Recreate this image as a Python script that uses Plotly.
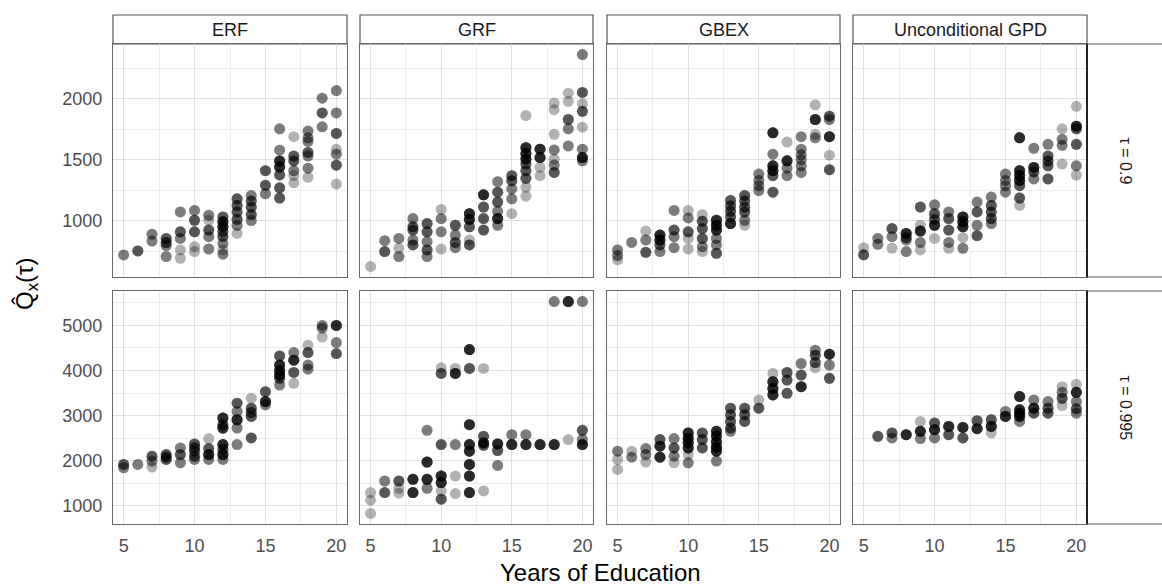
import plotly.graph_objects as go

# Estimated conditional quantiles by years of education.
# Each entry: year -> list of (estimate, number of overlapping observations)
methods = ["ERF", "GRF", "GBEX", "Unconditional GPD"]
tau_labels = ["τ = 0.9", "τ = 0.995"]
year_ticks = [5, 10, 15, 20]

erf_090 = {
    5: [(718, 2)], 6: [(751, 3)], 7: [(889, 2), (832, 2)],
    8: [(854, 3), (820, 3), (795, 2), (705, 2)],
    9: [(1071, 2), (908, 3), (854, 2), (759, 1), (691, 1)],
    10: [(1084, 2), (1003, 3), (908, 3), (786, 1), (746, 1)],
    11: [(1044, 2), (1003, 1), (922, 3), (868, 2), (767, 2)],
    12: [(1030, 3), (990, 5), (950, 5), (910, 3), (870, 3), (813, 2), (759, 1), (724, 2)],
    13: [(1179, 3), (1125, 3), (1070, 3), (1010, 3), (960, 2), (895, 1)],
    14: [(1206, 2), (1160, 3), (1110, 3), (1050, 3), (1000, 2)],
    15: [(1410, 3), (1290, 3), (1220, 2)],
    16: [(1754, 2), (1578, 2), (1490, 5), (1440, 5), (1375, 3), (1269, 3), (1185, 3)],
    17: [(1689, 1), (1530, 3), (1490, 3), (1410, 2), (1370, 1), (1310, 1)],
    18: [(1735, 2), (1680, 2), (1650, 2), (1560, 3), (1530, 2), (1430, 2), (1355, 1)],
    19: [(2005, 2), (1884, 3), (1770, 2)],
    20: [(2068, 2), (1884, 2), (1716, 3), (1585, 1), (1545, 2), (1455, 3), (1300, 1)],
}
grf_090 = {
    5: [(624, 1)], 6: [(835, 2), (746, 3)], 7: [(854, 2), (773, 1), (705, 2)],
    8: [(1017, 2), (949, 3), (922, 3), (840, 2), (800, 3)],
    9: [(976, 3), (908, 3), (827, 2), (759, 3), (705, 2)],
    10: [(1092, 1), (1017, 2), (908, 2), (767, 1)],
    11: [(962, 3), (881, 2), (821, 3), (778, 2)],
    12: [(1057, 5), (1010, 5), (949, 3), (840, 1), (800, 3)],
    13: [(1212, 5), (1111, 3), (1017, 3), (922, 3)],
    14: [(1320, 2), (1233, 3), (1152, 3), (1076, 2), (1017, 5), (962, 2)],
    15: [(1369, 3), (1328, 3), (1260, 2), (1179, 2), (1057, 1)],
    16: [(1862, 1), (1599, 5), (1550, 5), (1505, 5), (1464, 3), (1410, 3), (1347, 3), (1274, 1), (1201, 1)],
    17: [(1586, 5), (1518, 5), (1437, 1), (1369, 1)],
    18: [(1965, 1), (1911, 1), (1708, 1), (1580, 2), (1504, 1), (1456, 2), (1396, 3)],
    19: [(2046, 1), (1979, 1), (1830, 3), (1754, 2), (1613, 2)],
    20: [(2363, 2), (2052, 3), (1960, 1), (1897, 3), (1767, 1), (1586, 2), (1518, 5), (1491, 2)],
}
gbex_090 = {
    5: [(759, 2), (713, 2), (678, 1)], 6: [(821, 2)], 7: [(914, 1), (840, 2), (740, 3)],
    8: [(881, 5), (840, 5), (800, 3), (746, 2)],
    9: [(1084, 2), (922, 3), (868, 2), (778, 2)],
    10: [(1084, 1), (1022, 2), (908, 3), (854, 1), (767, 1)],
    11: [(1049, 1), (995, 3), (935, 3), (854, 3), (786, 2), (746, 1)],
    12: [(1003, 5), (962, 5), (922, 5), (854, 2), (800, 2), (732, 3)],
    13: [(1166, 3), (1120, 3), (1076, 3), (1030, 3), (976, 5)],
    14: [(1206, 3), (1160, 3), (1110, 3), (1070, 3), (1003, 2), (962, 1)],
    15: [(1382, 2), (1330, 2), (1287, 2), (1247, 2)],
    16: [(1721, 5), (1545, 2), (1450, 5), (1410, 5), (1369, 3), (1233, 3)],
    17: [(1645, 1), (1491, 5), (1430, 2), (1369, 2)],
    18: [(1689, 2), (1586, 2), (1540, 2), (1500, 2), (1450, 2), (1396, 2)],
    19: [(1951, 1), (1830, 5), (1708, 1), (1680, 2)],
    20: [(1857, 3), (1830, 2), (1689, 5), (1537, 1), (1418, 3)],
}
gpd_090 = {
    5: [(778, 1), (719, 3)], 6: [(854, 2), (805, 2)], 7: [(935, 3), (868, 2), (773, 1)],
    8: [(895, 5), (860, 3), (840, 2), (746, 2)],
    9: [(1111, 3), (962, 1), (914, 5), (821, 2), (759, 1)],
    10: [(1130, 2), (1057, 3), (1010, 3), (962, 5), (854, 1)],
    11: [(1071, 2), (1017, 3), (922, 3), (821, 2), (773, 1)],
    12: [(1030, 5), (990, 5), (949, 5), (860, 1), (773, 2)],
    13: [(1152, 2), (1071, 3), (962, 2), (876, 3)],
    14: [(1193, 2), (1125, 3), (1070, 3), (1017, 3), (976, 2)],
    15: [(1382, 2), (1330, 2), (1287, 2), (1233, 2)],
    16: [(1680, 5), (1410, 5), (1370, 5), (1330, 5), (1287, 3), (1185, 3), (1125, 1)],
    17: [(1594, 2), (1437, 5), (1400, 3), (1342, 2)],
    18: [(1626, 2), (1530, 3), (1490, 3), (1450, 3), (1342, 3)],
    19: [(1754, 1), (1667, 2), (1618, 2), (1464, 1)],
    20: [(1938, 1), (1775, 5), (1754, 3), (1626, 3), (1450, 2), (1374, 1)],
}

erf_0995 = {
    5: [(1917, 3), (1844, 2)], 6: [(1917, 2)], 7: [(2101, 3), (1991, 2), (1859, 1)],
    8: [(2137, 3), (2080, 3), (2028, 3)],
    9: [(2284, 2), (2137, 3), (1954, 2)],
    10: [(2372, 3), (2290, 3), (2211, 3), (2101, 3), (2028, 2)],
    11: [(2490, 1), (2270, 3), (2137, 5), (2028, 2)],
    12: [(2945, 5), (2800, 3), (2725, 5), (2358, 5), (2250, 3), (2137, 5), (2028, 2)],
    13: [(3275, 3), (3092, 2), (2908, 5), (2725, 2), (2358, 2)],
    14: [(3385, 1), (3165, 3), (3070, 3), (2982, 3), (2505, 3)],
    15: [(3532, 3), (3312, 5), (3239, 2)],
    16: [(4325, 3), (4120, 5), (4000, 5), (3900, 5), (3826, 3), (3679, 2)],
    17: [(4398, 2), (4230, 5), (3958, 3), (3716, 1)],
    18: [(4560, 1), (4398, 3), (4120, 2), (4031, 2)],
    19: [(5000, 2), (4942, 2), (4743, 1)],
    20: [(5000, 5), (4619, 2), (4376, 3)],
}
grf_0995 = {
    5: [(1294, 1), (1125, 1), (831, 1)], 6: [(1550, 2), (1294, 3)],
    7: [(1550, 3), (1389, 1), (1279, 1)], 8: [(1587, 5), (1294, 5)],
    9: [(2673, 2), (1969, 5), (1587, 5), (1389, 2)],
    10: [(4061, 1), (3936, 3), (2358, 3), (1660, 5), (1514, 5), (1330, 1), (1147, 3)],
    11: [(4046, 1), (3936, 5), (2358, 2), (1660, 1), (1272, 1)],
    12: [(4464, 5), (4046, 3), (2798, 5), (2358, 5), (2211, 5), (1917, 5), (1660, 5), (1294, 5)],
    13: [(4046, 1), (2541, 3), (2394, 5), (2343, 3), (1330, 1)],
    14: [(2372, 5), (2226, 3), (1895, 2)],
    15: [(2578, 2), (2358, 5)], 16: [(2578, 2), (2358, 5)], 17: [(2358, 5)],
    18: [(5529, 2), (2358, 5)], 19: [(5529, 5), (2468, 1)],
    20: [(5529, 2), (2673, 3), (2468, 2), (2358, 5)],
}
gbex_0995 = {
    5: [(2211, 2), (2028, 1), (1807, 1)], 6: [(2211, 1), (2079, 2)],
    7: [(2270, 2), (2137, 2), (1969, 1)], 8: [(2468, 3), (2321, 5), (2079, 5)],
    9: [(2490, 2), (2284, 3), (2101, 2), (1954, 1)],
    10: [(2615, 5), (2500, 5), (2400, 5), (2284, 5), (2137, 1), (1954, 2)],
    11: [(2615, 3), (2468, 3), (2284, 3)],
    12: [(2651, 5), (2550, 5), (2420, 5), (2300, 5), (2211, 5), (1991, 2)],
    13: [(3165, 3), (3020, 3), (2870, 3), (2725, 3), (2651, 2)],
    14: [(3165, 3), (3020, 3), (2871, 3)],
    15: [(3349, 1), (3165, 3)],
    16: [(3936, 1), (3752, 5), (3600, 5), (3459, 5)],
    17: [(3958, 3), (3789, 3), (3495, 3)],
    18: [(4156, 2), (3899, 3), (3642, 5)],
    19: [(4450, 2), (4340, 3), (4178, 3), (4061, 1)],
    20: [(4362, 5), (4120, 2), (3826, 3)],
}
gpd_0995 = {
    6: [(2541, 3)], 7: [(2615, 3), (2505, 2)], 8: [(2578, 5)],
    9: [(2871, 1), (2651, 5), (2490, 2)],
    10: [(2835, 3), (2688, 5), (2505, 2)],
    11: [(2761, 5), (2578, 3)], 12: [(2739, 5), (2505, 3)],
    13: [(2886, 3), (2710, 5)],
    14: [(2908, 3), (2761, 5), (2615, 1)],
    15: [(3092, 2), (2982, 5)],
    16: [(3422, 5), (3129, 5), (3050, 5), (2982, 5), (2871, 2)],
    17: [(3349, 2), (3165, 5), (3055, 3)],
    18: [(3312, 2), (3165, 3), (3055, 3)],
    19: [(3642, 1), (3517, 2), (3385, 3), (3224, 1)],
    20: [(3694, 1), (3517, 5), (3312, 2), (3151, 3), (3055, 2)],
}

panels = [
    [erf_090, grf_090, gbex_090, gpd_090],
    [erf_0995, grf_0995, gbex_0995, gpd_0995],
]

# ---- page geometry (pixels) ----
W, H = 1162, 588
col_px = [(113, 347), (360, 593), (607, 840), (853, 1087)]
row_px = [(44, 277), (291, 524)]
strip_top = 15


def px(x):
    return x / W


def py(y):
    return 1 - y / H


def expand(values, frac=0.05):
    lo, hi = min(values), max(values)
    pad = (hi - lo) * frac
    return [lo - pad, hi + pad]


x_range = expand(year_ticks)
y_ranges = []
for r in range(2):
    vals = [v for d in panels[r] for pts in d.values() for v, _ in pts]
    y_ranges.append(expand(vals))

y_dtick = [500, 1000]
font_family = "Liberation Sans, Arial, sans-serif"
tick_font = dict(family=font_family, size=18, color="#4d4d4d")
grid_major = "#e0e0e0"
grid_minor = "#ededed"
border = "#666666"

fig = go.Figure()
layout = {}
for r in range(2):
    for c in range(4):
        k = r * 4 + c + 1
        xa = "xaxis" if k == 1 else f"xaxis{k}"
        ya = "yaxis" if k == 1 else f"yaxis{k}"
        xs, ys = [], []
        for year, pts in panels[r][c].items():
            for v, n in pts:
                xs += [year] * n
                ys += [v] * n
        fig.add_trace(go.Scatter(
            x=xs, y=ys, mode="markers",
            xaxis="x" if k == 1 else f"x{k}",
            yaxis="y" if k == 1 else f"y{k}",
            marker=dict(size=11, color="rgba(0,0,0,0.3)", line=dict(width=0)),
            showlegend=False, hoverinfo="x+y",
        ))
        x0, x1 = col_px[c]
        y0, y1 = row_px[r]
        layout[xa] = dict(
            domain=[px(x0), px(x1)], range=x_range,
            anchor="y" if k == 1 else f"y{k}",
            tickvals=year_ticks, showticklabels=(r == 1),
            tickfont=tick_font, ticks="", ticklabelstandoff=5,
            showgrid=True, gridcolor=grid_major, gridwidth=1,
            minor=dict(dtick=2.5, tick0=5, showgrid=True, gridcolor=grid_minor, gridwidth=1),
            zeroline=False, showline=True, mirror=True, linecolor=border, linewidth=1.2,
        )
        layout[ya] = dict(
            domain=[py(y1), py(y0)], range=y_ranges[r],
            anchor="x" if k == 1 else f"x{k}",
            dtick=y_dtick[r], tick0=0,
            showticklabels=(c == 0),
            tickfont=tick_font, ticks="", ticklabelstandoff=6,
            showgrid=True, gridcolor=grid_major, gridwidth=1,
            minor=dict(dtick=y_dtick[r] / 2, tick0=0,
                       showgrid=True, gridcolor=grid_minor, gridwidth=1),
            zeroline=False, showline=True, mirror=True, linecolor=border, linewidth=1.2,
        )

shapes = []
annotations = []
# column strips
for c, name in enumerate(methods):
    x0, x1 = col_px[c]
    shapes.append(dict(type="rect", xref="paper", yref="paper",
                       x0=px(x0), x1=px(x1), y0=py(row_px[0][0]), y1=py(strip_top),
                       line=dict(color="#555555", width=1.2), fillcolor="white", layer="below"))
    annotations.append(dict(text=name, xref="paper", yref="paper",
                            x=px((x0 + x1) / 2), y=py((strip_top + row_px[0][0]) / 2),
                            showarrow=False, xanchor="center", yanchor="middle",
                            font=dict(family=font_family, size=18, color="#1a1a1a")))
# row strips
for r, lab in enumerate(tau_labels):
    y0, y1 = row_px[r]
    shapes.append(dict(type="rect", xref="paper", yref="paper",
                       x0=px(col_px[3][1]), x1=px(W + 40), y0=py(y1), y1=py(y0),
                       line=dict(color="#555555", width=1.2), fillcolor="white", layer="below"))
    shapes.append(dict(type="line", xref="paper", yref="paper",
                       x0=px(col_px[3][1]), x1=px(col_px[3][1]), y0=py(y1), y1=py(y0),
                       line=dict(color="#222222", width=2)))
    annotations.append(dict(text=lab, xref="paper", yref="paper",
                            x=px(1125), y=py((y0 + y1) / 2), textangle=90,
                            showarrow=False, xanchor="center", yanchor="middle",
                            font=dict(family=font_family, size=16, color="#1a1a1a")))

# axis titles
annotations.append(dict(text="Years of Education", xref="paper", yref="paper",
                        x=px((col_px[0][0] + col_px[3][1]) / 2), y=py(572),
                        showarrow=False, xanchor="center", yanchor="middle",
                        font=dict(family=font_family, size=24, color="#000000")))
annotations.append(dict(text="Q\u0302<sub>x</sub>(τ)", xref="paper", yref="paper",
                        x=px(26), y=py((row_px[0][0] + row_px[1][1]) / 2), textangle=-90,
                        showarrow=False, xanchor="center", yanchor="middle",
                        font=dict(family=font_family, size=24, color="#000000")))

fig.update_layout(
    width=W, height=H,
    margin=dict(l=0, r=0, t=0, b=0),
    paper_bgcolor="white", plot_bgcolor="white",
    shapes=shapes, annotations=annotations,
    **layout,
)

fig.write_html("out.html")
